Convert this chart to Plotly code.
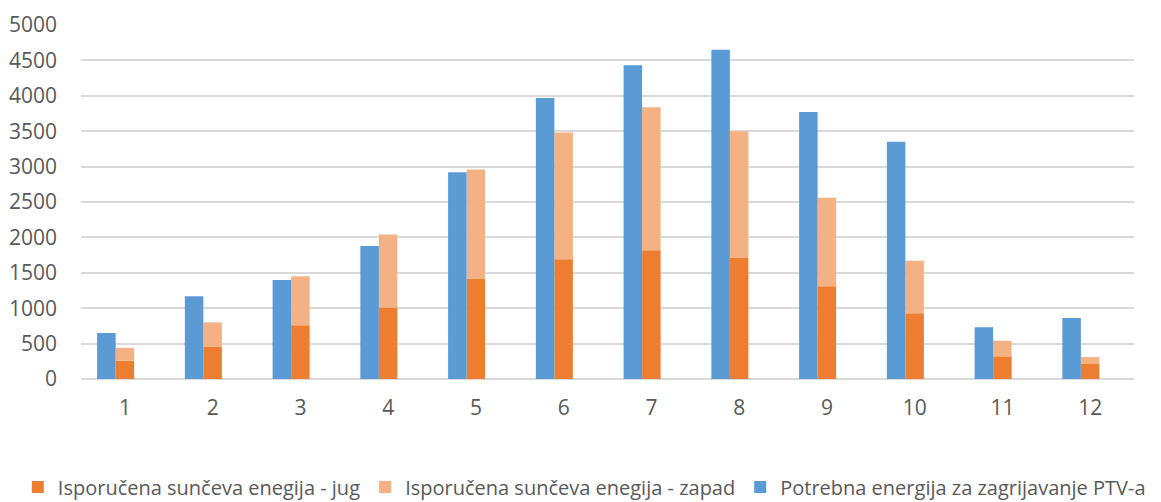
import plotly.graph_objects as go

# Months of the year
months = ["1", "2", "3", "4", "5", "6", "7", "8", "9", "10", "11", "12"]

# Delivered solar energy, south-facing collectors
jug = [260, 460, 760, 1010, 1420, 1690, 1820, 1710, 1310, 930, 320, 220]

# Delivered solar energy, west-facing collectors (stacked on top of south)
zapad = [180, 340, 690, 1030, 1540, 1790, 2020, 1790, 1250, 740, 220, 90]

# Energy required for domestic hot water heating
potrebna = [650, 1170, 1400, 1880, 2920, 3970, 4430, 4650, 3770, 3350, 730, 860]

y_ticks = [0, 500, 1000, 1500, 2000, 2500, 3000, 3500, 4000, 4500, 5000]

BAR_W = 0.211
C_JUG = "#ED7D31"
C_ZAPAD = "#F4B183"
C_POTR = "#5B9BD5"
TXT = "#595959"
FONT = "Open Sans"

fig = go.Figure()

fig.add_trace(go.Bar(
    x=months, y=jug, name="Isporučena sunčeva enegija - jug",
    marker=dict(color=C_JUG, line=dict(width=0)),
    width=BAR_W, offset=-BAR_W / 2,
))
fig.add_trace(go.Bar(
    x=months, y=zapad, base=jug, name="Isporučena sunčeva enegija - zapad",
    marker=dict(color=C_ZAPAD, line=dict(width=0)),
    width=BAR_W, offset=-BAR_W / 2,
))
fig.add_trace(go.Bar(
    x=months, y=potrebna, name="Potrebna energija za zagrijavanje PTV-a",
    marker=dict(color=C_POTR, line=dict(width=0)),
    width=BAR_W, offset=-1.5 * BAR_W,
))

fig.update_layout(
    width=1161, height=502,
    barmode="overlay",
    plot_bgcolor="white", paper_bgcolor="white",
    margin=dict(l=81, r=27, t=25, b=123, autoexpand=False),
    font=dict(family=FONT, size=21, color=TXT),
    showlegend=True,
    legend=dict(
        orientation="h",
        x=-0.06, xanchor="left",
        y=-0.305, yanchor="middle",
        font=dict(family=FONT, size=20, color=TXT),
        traceorder="normal", itemwidth=30, tracegroupgap=0,
        borderwidth=0,
    ),
    xaxis=dict(
        type="category", showgrid=False, showline=False, ticks="",
        tickfont=dict(family=FONT, size=21, color=TXT),
        ticklabelstandoff=14,
    ),
    yaxis=dict(
        range=[0, 5000], tickvals=y_ticks, showgrid=True,
        gridcolor="#D9D9D9", gridwidth=1.5,
        zeroline=True, zerolinecolor="#D9D9D9", zerolinewidth=1.5,
        showline=False, ticks="",
        tickfont=dict(family=FONT, size=21, color=TXT),
        ticklabelstandoff=23,
    ),
)

fig.write_html("out.html")
